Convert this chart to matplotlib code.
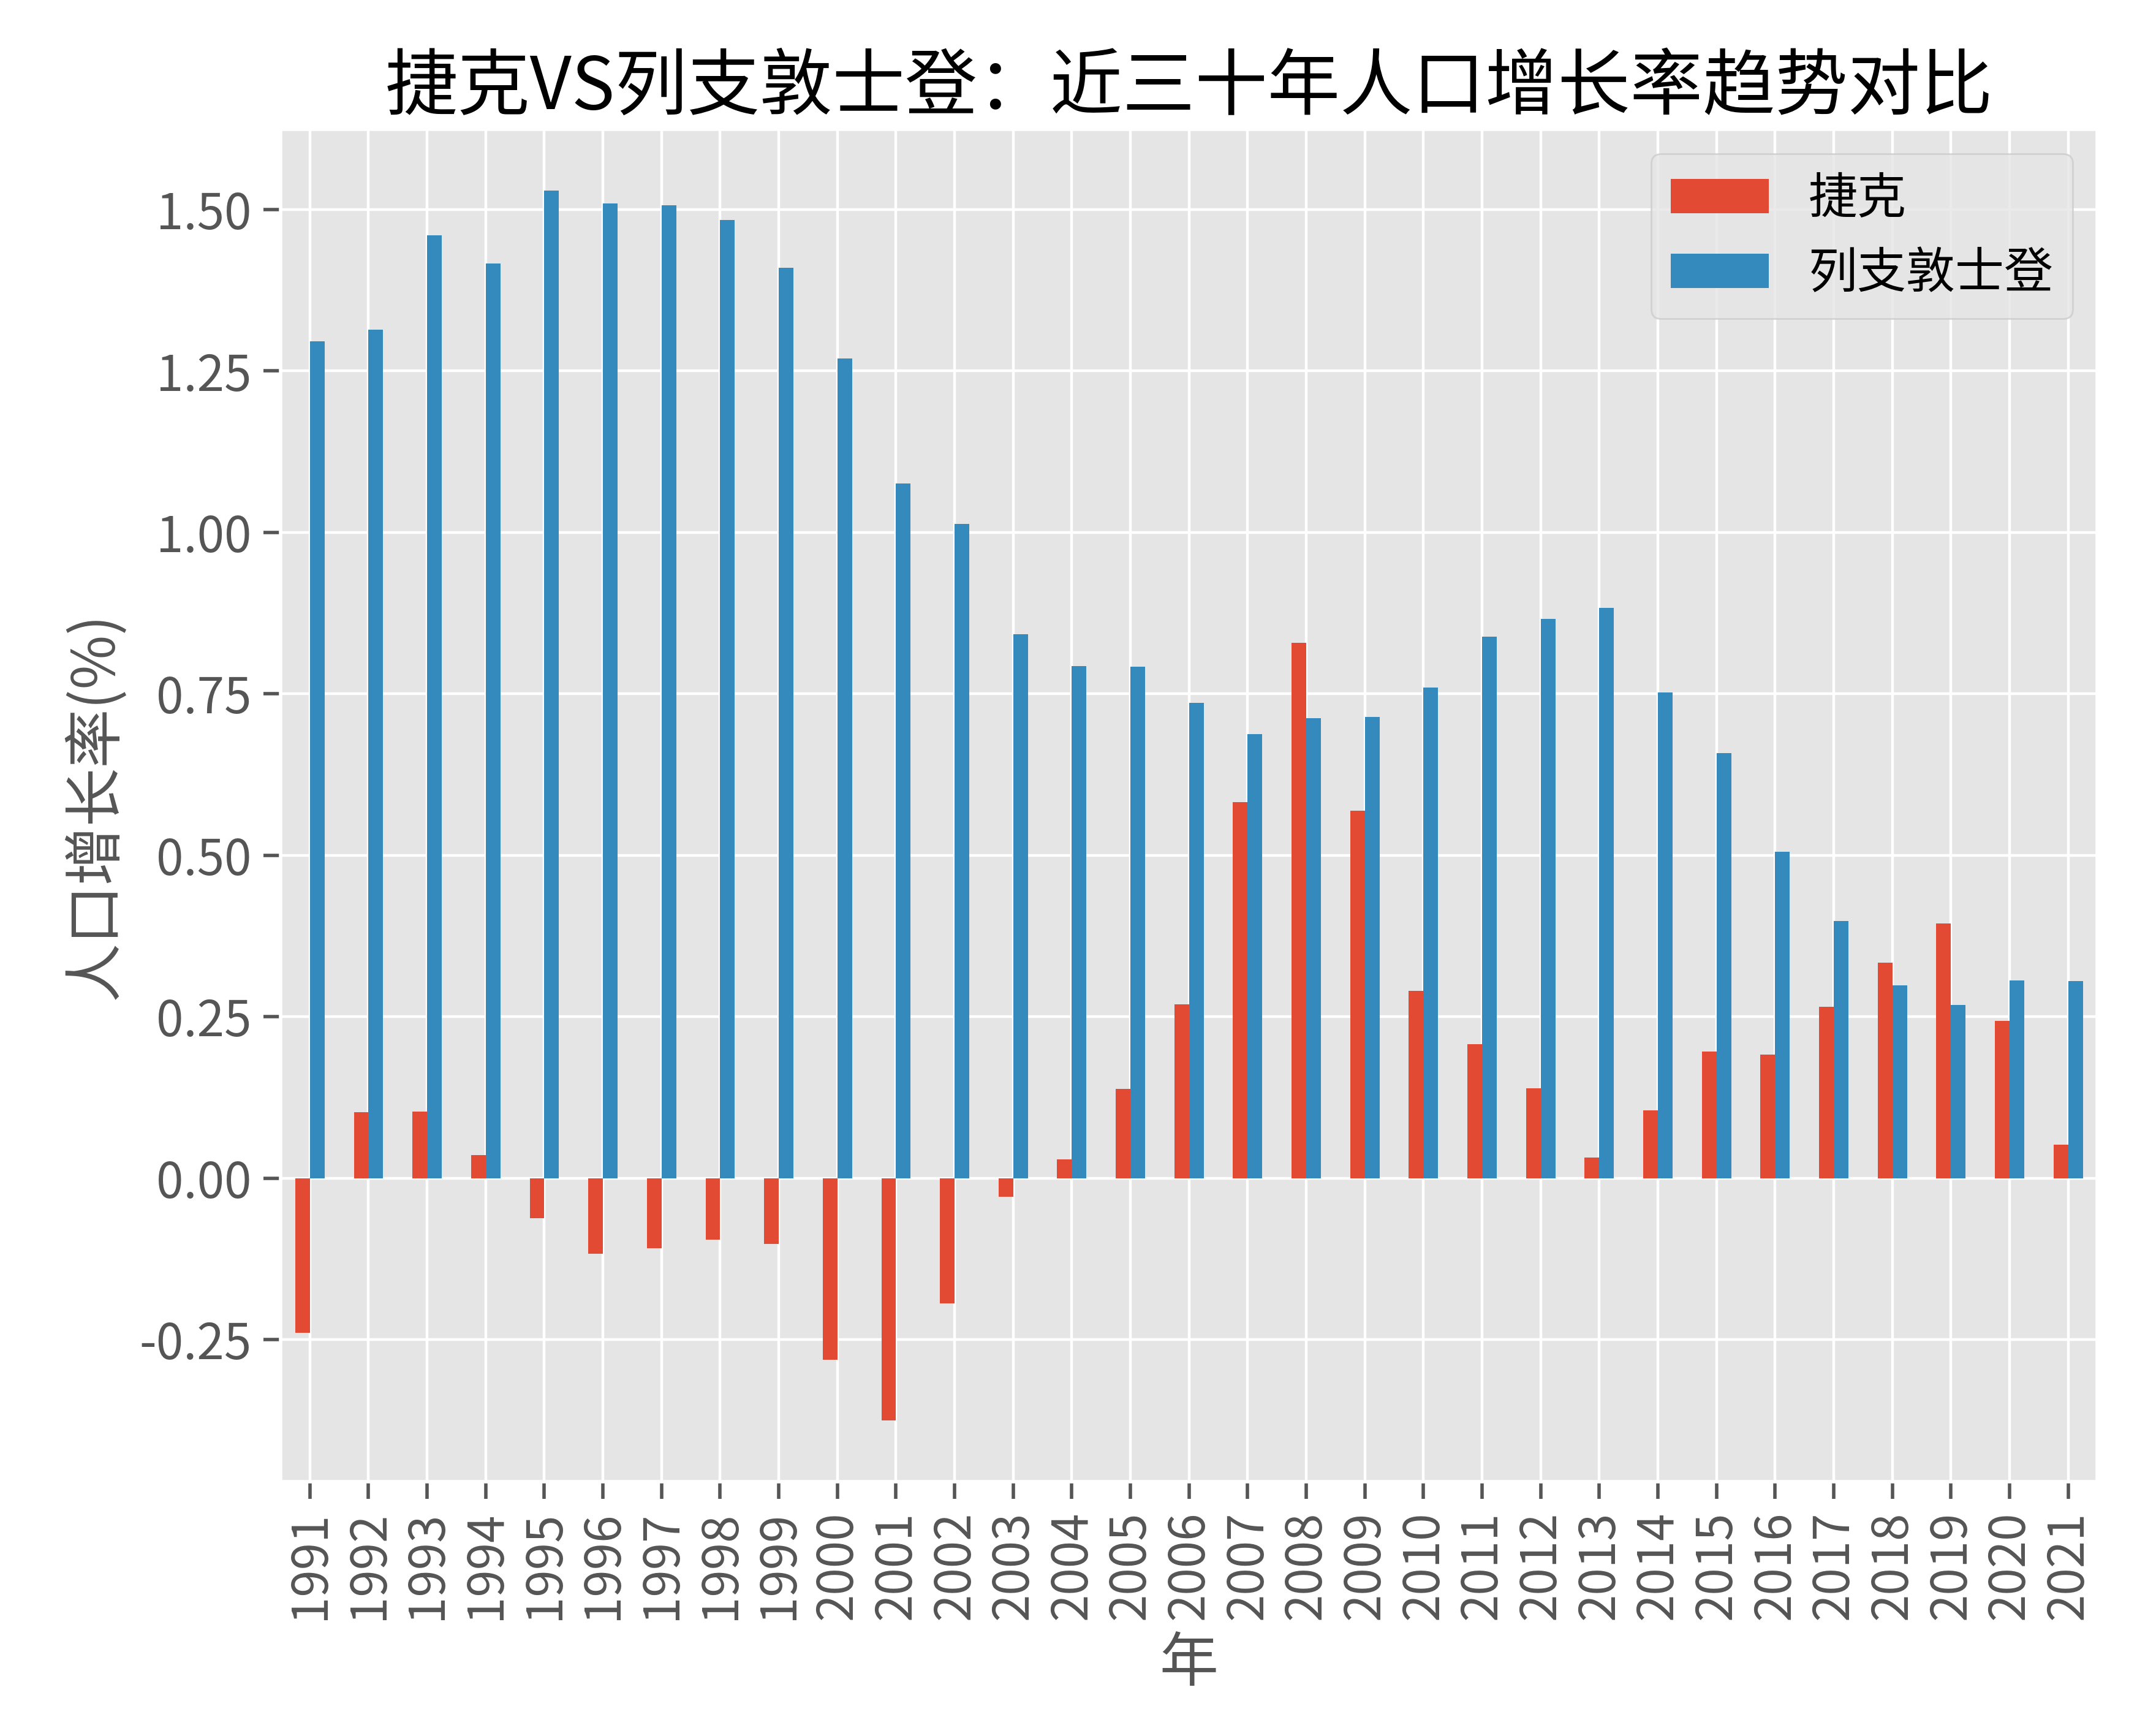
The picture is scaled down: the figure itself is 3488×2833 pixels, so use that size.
import matplotlib
matplotlib.use('Agg')
import matplotlib.pyplot as plt
import numpy as np

years = list(range(1991, 2022))
czech = [-0.240, 0.102, 0.103, 0.036, -0.062, -0.117, -0.109, -0.095, -0.102, -0.281,
         -0.375, -0.194, -0.029, 0.029, 0.138, 0.269, 0.582, 0.829, 0.569, 0.290,
         0.207, 0.139, 0.032, 0.105, 0.196, 0.191, 0.265, 0.334, 0.394, 0.243, 0.052]
liechtenstein = [1.296, 1.314, 1.460, 1.416, 1.529, 1.509, 1.507, 1.484, 1.410, 1.269,
                 1.076, 1.013, 0.842, 0.793, 0.792, 0.736, 0.688, 0.712, 0.714, 0.760,
                 0.838, 0.866, 0.883, 0.752, 0.658, 0.505, 0.398, 0.298, 0.268, 0.306, 0.305]
names = ['捷克', '列支敦士登']

plt.style.use('ggplot')
plt.rcParams['font.family'] = ['Noto Sans CJK SC', 'DejaVu Sans']
plt.rcParams['font.size'] = 14.4
plt.rcParams['axes.unicode_minus'] = False

fig, ax = plt.subplots(figsize=(8.72, 7.0825), dpi=400)
fig.subplots_adjust(left=0.1313, right=0.9815, top=0.9255, bottom=0.1465)

x = np.arange(len(years))
w = 0.25
ax.bar(x - w / 2, czech, width=w, color='#E24A33', label=names[0])
ax.bar(x + w / 2, liechtenstein, width=w, color='#348ABD', label=names[1])

ax.set_xticks(x)
ax.set_xticklabels([str(y) for y in years], rotation=90)
ax.set_xlim(-0.5, len(years) - 0.5)
ax.tick_params(axis='both', length=5, width=1.0)

ax.set_title('捷克VS列支敦士登：近三十年人口增长率趋势对比', color='black', fontsize=21.3)
ax.set_xlabel('年')
ax.set_ylabel('人口增长率(%)')
ax.legend(loc='upper right')

fig.savefig('out.png', dpi=400)
